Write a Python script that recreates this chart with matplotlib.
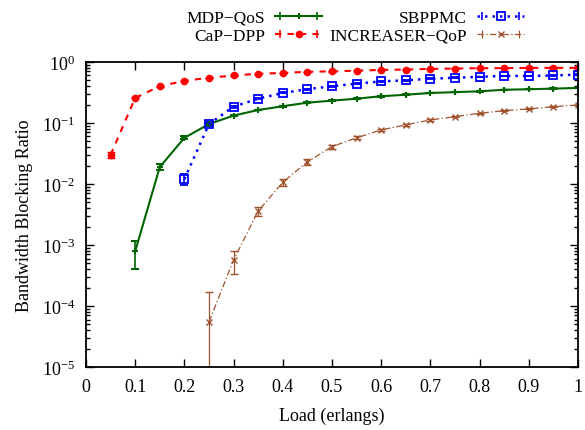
import numpy as np
import matplotlib
matplotlib.use("Agg")
import matplotlib.pyplot as plt
from matplotlib.ticker import LogLocator
from matplotlib.lines import Line2D
from matplotlib.legend_handler import HandlerLine2D, HandlerTuple

plt.rcParams["font.family"] = ["Liberation Serif", "DejaVu Serif"]
plt.rcParams["mathtext.fontset"] = "stix"
plt.rcParams["font.size"] = 13

load_cap = [0.05, 0.1, 0.15, 0.2, 0.25, 0.3, 0.35, 0.4, 0.45, 0.5, 0.55, 0.6,
            0.65, 0.7, 0.75, 0.8, 0.85, 0.9, 0.95, 1.0]
cap_dpp = [0.030, 0.257, 0.40, 0.49, 0.55, 0.60, 0.64, 0.66, 0.69, 0.70, 0.72,
           0.74, 0.75, 0.77, 0.78, 0.79, 0.79, 0.80, 0.80, 0.80]
cap_err = [0.003] + [0.005] * 19

load_mdp = load_cap[1:]
mdp_qos = [7.9e-4, 0.019, 0.057, 0.096, 0.132, 0.163, 0.188, 0.215, 0.232, 0.25,
           0.274, 0.29, 0.31, 0.32, 0.33, 0.35, 0.357, 0.365, 0.375]
mdp_err = [3.9e-4, 0.002, 0.003] + [0.003] * 16

load_sb = load_cap[3:]
sbppmc = [0.012, 0.096, 0.185, 0.25, 0.31, 0.357, 0.40, 0.44, 0.48, 0.50, 0.53,
          0.55, 0.57, 0.59, 0.59, 0.60, 0.62]
sb_err = [0.0025] + [0.006] * 16

load_inc = load_cap[4:]
increaser = [5.5e-5, 5.7e-4, 3.6e-3, 0.0107, 0.023, 0.041, 0.057, 0.077, 0.093,
             0.112, 0.127, 0.144, 0.159, 0.17, 0.185, 0.197]
inc_err = [1.15e-4, 2.4e-4, 6e-4, 1.5e-3, 2.5e-3, 3e-3, 3e-3, 3e-3, 3e-3,
           3e-3, 3e-3, 3e-3, 3e-3, 3e-3, 3e-3, 3e-3]

labels = ["MDP\u2212QoS", "CaP\u2212DPP", "SBPPMC", "INCREASER\u2212QoP"]

fig = plt.figure(figsize=(5.85, 4.31), dpi=100)
ax = fig.add_axes([0.147, 0.146, 0.841, 0.708])

green = "#006400"
brown = "#a0522d"

styles = [
    dict(color=green, ls="-", lw=1.5, marker="+", ms=5, mew=1.5),
    dict(color="red", ls=(0, (3, 3)), lw=1.5, marker="o", ms=4.5, mew=1.0),
    dict(color="blue", ls=(0, (1, 2)), lw=1.8, marker="s", ms=6, mfc="none", mew=1.3),
    dict(color=brown, ls=(0, (5, 2, 1, 2)), lw=0.9, marker="x", ms=5, mew=1.0),
]
series = [(load_mdp, mdp_qos, mdp_err), (load_cap, cap_dpp, cap_err),
          (load_sb, sbppmc, sb_err), (load_inc, increaser, inc_err)]

for (x, y, e), st, lab in zip(series, styles, labels):
    ax.errorbar(x, y, yerr=e, capsize=3, elinewidth=min(st["lw"], 1.2),
                label=lab, **st)

ax.set_yscale("log")
ax.set_xlim(0, 1)
ax.set_ylim(1e-5, 1)
ax.set_xticks(np.arange(0, 1.01, 0.1))
ax.set_xticklabels(["0", "0.1", "0.2", "0.3", "0.4", "0.5", "0.6", "0.7",
                    "0.8", "0.9", "1"])
ax.yaxis.set_major_locator(LogLocator(base=10, numticks=10))
ax.yaxis.set_minor_locator(LogLocator(base=10, subs=np.arange(2, 10), numticks=10))
ax.tick_params(which="both", direction="in", top=True, right=True, width=1)
ax.tick_params(which="major", length=6, pad=8)
ax.tick_params(which="minor", length=3)
for s in ax.spines.values():
    s.set_linewidth(1.3)

ax.set_xlabel("Load (erlangs)", labelpad=8)
ax.set_ylabel("Bandwidth Blocking Ratio", labelpad=6)

# gnuplot-like legend keys: line + point + end caps
handles = []
hmap = {}
for st in styles:
    main = Line2D([], [], **st)
    caps = Line2D([], [], color=st["color"], ls="none", marker="|", ms=6,
                  mew=min(st["lw"], 1.2))
    hmap[caps] = HandlerLine2D(numpoints=2)
    handles.append((main, caps))
hmap[tuple] = HandlerTuple(ndivide=1)

fig.legend(handles, labels, loc="upper center", ncol=2, frameon=False,
           markerfirst=False, numpoints=1, handler_map=hmap,
           bbox_to_anchor=(0.607, 1.012), handlelength=2.7, columnspacing=0.4,
           labelspacing=0.12, handletextpad=0.6, fontsize=12.5)

fig.savefig("out.png", dpi=100)
